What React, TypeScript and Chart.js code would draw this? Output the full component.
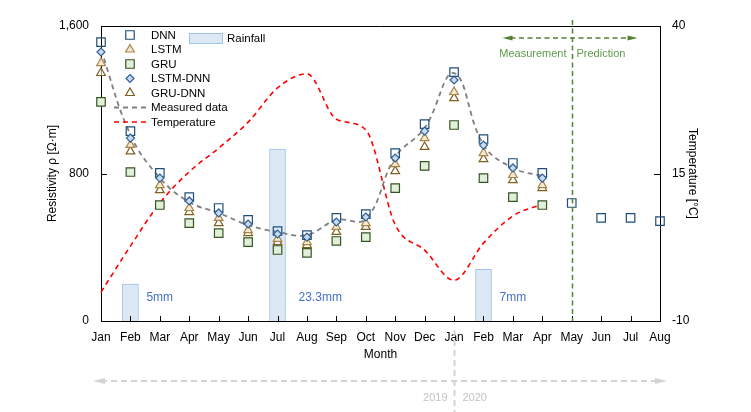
import React, { useEffect, useRef } from "react";
import { Chart, registerables } from "chart.js";

Chart.register(...registerables);

const FONT = "'Liberation Sans', Arial, sans-serif";

const months = ["Jan", "Feb", "Mar", "Apr", "May", "Jun", "Jul", "Aug", "Sep", "Oct", "Nov", "Dec", "Jan", "Feb", "Mar", "Apr", "May", "Jun", "Jul", "Aug"];

const dnn = [1513, 1030, 803, 672, 613, 548, 488, 466, 559, 580, 911, 1068, 1350, 987, 857, 803, 640, 559, 559, 542];
const lstm = [1399, 955, 737, 613, 559, 493, 445, 428, 510, 531, 851, 992, 1242, 911, 792, 737];
const gru = [1188, 808, 629, 531, 477, 428, 385, 369, 434, 455, 721, 841, 1063, 775, 672, 629];
const lstmDnn = [1459, 992, 775, 651, 586, 526, 472, 455, 537, 564, 884, 1030, 1307, 954, 830, 775];
const gruDnn = [1345, 920, 710, 591, 531, 477, 428, 412, 483, 510, 813, 944, 1209, 878, 764, 721];
const measured = [1470, 1010, 776, 645, 586, 521, 483, 466, 548, 553, 889, 1047, 1345, 955, 830, 786];
const temperature = [-5.1, 2.7, 10, 15.3, 19.3, 23.7, 29.5, 31.9, 24.2, 22.4, 6.3, 2.0, -3.1, 3.2, 7.8, 9.8];

const rainfallIndex = [1, 6, 13];
const rainfallMm = [5, 23.3, 7];
const rainfallLabels = ["5mm", "23.3mm", "7mm"];

const leftTicks = [0, 800, 1600];
const rightTicks = [-10, 15, 40];

const rainfallData = months.map((_, i) => {
  const k = rainfallIndex.indexOf(i);
  return k >= 0 ? rainfallMm[k] : null;
});

const C = {
  dnn: "#1f4e79",
  lstm: "#a8864a",
  lstmFill: "#f3e8d2",
  gru: "#375623",
  gruFill: "#e2efda",
  lstmDnn: "#2f5f96",
  lstmDnnFill: "#c9dbef",
  gruDnn: "#7f6020",
  measured: "#7f7f7f",
  temp: "#ff0000",
  barFill: "#dde8f5",
  barBorder: "#9dc3e6",
  green: "#548235",
  greenText: "#5f9a4a",
  gray: "#d3d3d3",
  grayText: "#c3c3c3",
  rainText: "#4472c4",
};

function drawSym(ctx: CanvasRenderingContext2D, kind: string, x: number, y: number, r: number, stroke: string, fill: string) {
  ctx.save();
  ctx.lineWidth = 1.2;
  ctx.strokeStyle = stroke;
  ctx.fillStyle = fill;
  ctx.setLineDash([]);
  ctx.beginPath();
  if (kind === "rect") {
    const s = Math.SQRT1_2 * r;
    ctx.rect(x - s, y - s, 2 * s, 2 * s);
  } else if (kind === "rectRot") {
    ctx.moveTo(x, y - r);
    ctx.lineTo(x + r, y);
    ctx.lineTo(x, y + r);
    ctx.lineTo(x - r, y);
    ctx.closePath();
  } else if (kind === "triangle") {
    const a = (2 * Math.PI) / 3;
    ctx.moveTo(x, y - r);
    ctx.lineTo(x + Math.sin(a) * r, y - Math.cos(a) * r);
    ctx.lineTo(x + Math.sin(2 * a) * r, y - Math.cos(2 * a) * r);
    ctx.closePath();
  }
  if (fill !== "none") ctx.fill();
  ctx.stroke();
  ctx.restore();
}

function arrowHead(ctx: CanvasRenderingContext2D, tipX: number, y: number, dir: number, len: number, half: number) {
  ctx.beginPath();
  ctx.moveTo(tipX, y);
  ctx.lineTo(tipX - dir * len, y - half);
  ctx.lineTo(tipX - dir * len, y + half);
  ctx.closePath();
  ctx.fill();
}

const legendItems = [
  { label: "DNN", kind: "rect", r: 6, stroke: C.dnn, fill: "none" },
  { label: "LSTM", kind: "triangle", r: 5, stroke: C.lstm, fill: C.lstmFill },
  { label: "GRU", kind: "rect", r: 6, stroke: C.gru, fill: C.gruFill },
  { label: "LSTM-DNN", kind: "rectRot", r: 4, stroke: C.lstmDnn, fill: C.lstmDnnFill },
  { label: "GRU-DNN", kind: "triangle", r: 5, stroke: C.gruDnn, fill: "#ffffff" },
  { label: "Measured data", kind: "line", stroke: C.measured, dash: [5, 4], w: 1.8 },
  { label: "Temperature", kind: "line", stroke: C.temp, dash: [5, 4], w: 1.6 },
];

const decorations = {
  id: "decorations",
  afterDraw(chart: any) {
    const { ctx, chartArea: ca, scales } = chart;
    const xs = scales.x;
    const ys = scales.y;
    const y1 = scales.y1;
    ctx.save();
    // top border + inner ticks
    ctx.strokeStyle = "#000";
    ctx.lineWidth = 1;
    ctx.setLineDash([]);
    ctx.beginPath();
    ctx.moveTo(ca.left, Math.round(ca.top) + 0.5);
    ctx.lineTo(ca.right, Math.round(ca.top) + 0.5);
    for (let i = 0; i < months.length; i++) {
      const px = Math.round(xs.getPixelForValue(i)) + 0.5;
      ctx.moveTo(px, ca.bottom);
      ctx.lineTo(px, ca.bottom - 5);
    }
    for (const v of leftTicks) {
      const py = Math.round(ys.getPixelForValue(v)) + 0.5;
      ctx.moveTo(ca.left, py);
      ctx.lineTo(ca.left + 6, py);
    }
    for (const v of rightTicks) {
      const py = Math.round(y1.getPixelForValue(v)) + 0.5;
      ctx.moveTo(ca.right, py);
      ctx.lineTo(ca.right - 6, py);
    }
    ctx.stroke();

    // rainfall labels
    ctx.fillStyle = C.rainText;
    ctx.font = `12px ${FONT}`;
    ctx.textAlign = "left";
    ctx.textBaseline = "middle";
    const dxs = [16, 21, 16];
    rainfallIndex.forEach((idx, k) => {
      ctx.fillText(rainfallLabels[k], xs.getPixelForValue(idx) + dxs[k], ca.bottom - 23);
    });

    // legend
    ctx.font = `11.5px ${FONT}`;
    ctx.fillStyle = "#000";
    legendItems.forEach((it: any, i: number) => {
      const yy = 35 + i * 14.5;
      if (it.kind === "line") {
        ctx.save();
        ctx.strokeStyle = it.stroke;
        ctx.lineWidth = it.w;
        ctx.setLineDash(it.dash);
        ctx.beginPath();
        ctx.moveTo(114, yy);
        ctx.lineTo(146, yy);
        ctx.stroke();
        ctx.restore();
      } else {
        drawSym(ctx, it.kind, 130, yy, it.r, it.stroke, it.fill);
      }
      ctx.fillStyle = "#000";
      ctx.textAlign = "left";
      ctx.textBaseline = "middle";
      ctx.fillText(it.label, 151, yy + 0.5);
    });
    ctx.fillStyle = C.barFill;
    ctx.strokeStyle = C.barBorder;
    ctx.lineWidth = 1;
    ctx.fillRect(189.5, 33.5, 33, 10);
    ctx.strokeRect(189.5, 33.5, 33, 10);
    ctx.fillStyle = "#000";
    ctx.fillText("Rainfall", 227, 38.5);

    // measurement / prediction
    const vx = Math.round(xs.getPixelForValue(16)) + 0.5;
    ctx.strokeStyle = C.green;
    ctx.fillStyle = C.green;
    ctx.lineWidth = 1.5;
    ctx.setLineDash([5, 3.5]);
    ctx.beginPath();
    ctx.moveTo(vx, 20);
    ctx.lineTo(vx, ca.bottom);
    ctx.moveTo(vx - 62, 38);
    ctx.lineTo(vx + 57, 38);
    ctx.stroke();
    ctx.setLineDash([]);
    arrowHead(ctx, vx - 70, 38, -1, 10, 2.5);
    arrowHead(ctx, vx + 65, 38, 1, 10, 2.5);
    ctx.fillStyle = C.greenText;
    ctx.font = `11px ${FONT}`;
    ctx.textAlign = "right";
    ctx.fillText("Measurement", vx - 6, 54);
    ctx.textAlign = "left";
    ctx.fillText("Prediction", vx + 4, 54);

    // year divider
    const gx = Math.round(xs.getPixelForValue(12)) + 0.5;
    ctx.strokeStyle = C.gray;
    ctx.fillStyle = C.gray;
    ctx.lineWidth = 2;
    ctx.setLineDash([6, 4]);
    ctx.beginPath();
    ctx.moveTo(gx, 330);
    ctx.lineTo(gx, 412);
    ctx.moveTo(ca.left - 0, 381);
    ctx.lineTo(ca.right - 2, 381);
    ctx.stroke();
    ctx.setLineDash([]);
    arrowHead(ctx, ca.left - 8, 381, -1, 12, 3);
    arrowHead(ctx, ca.right + 7, 381, 1, 12, 3);
    ctx.fillStyle = C.grayText;
    ctx.font = `11px ${FONT}`;
    ctx.textAlign = "right";
    ctx.fillText("2019", gx - 7, 398);
    ctx.textAlign = "left";
    ctx.fillText("2020", gx + 8, 398);

    ctx.restore();
  },
};

export default function App() {
  const ref = useRef<HTMLCanvasElement | null>(null);
  useEffect(() => {
    if (!ref.current) return;
    Chart.defaults.font.family = FONT;
    const tickFont = { family: FONT, size: 12 };
    const chart = new Chart(ref.current, {
      type: "line",
      data: {
        labels: months,
        datasets: [
          {
            type: "line",
            label: "LSTM-DNN",
            data: lstmDnn,
            showLine: false,
            pointStyle: "rectRot",
            pointRadius: 4,
            pointBorderWidth: 1.2,
            borderColor: C.lstmDnn,
            backgroundColor: C.lstmDnnFill,
            yAxisID: "y",
            order: 1,
          },
          {
            type: "line",
            label: "DNN",
            data: dnn,
            showLine: false,
            pointStyle: "rect",
            pointRadius: 6,
            pointBorderWidth: 1.2,
            borderColor: C.dnn,
            backgroundColor: "rgba(255,255,255,0)",
            yAxisID: "y",
            order: 2,
          },
          {
            type: "line",
            label: "LSTM",
            data: lstm,
            showLine: false,
            pointStyle: "triangle",
            pointRadius: 5,
            pointBorderWidth: 1.2,
            borderColor: C.lstm,
            backgroundColor: C.lstmFill,
            yAxisID: "y",
            order: 3,
          },
          {
            type: "line",
            label: "GRU-DNN",
            data: gruDnn,
            showLine: false,
            pointStyle: "triangle",
            pointRadius: 5,
            pointBorderWidth: 1.2,
            borderColor: C.gruDnn,
            backgroundColor: "rgba(255,255,255,0.6)",
            yAxisID: "y",
            order: 4,
          },
          {
            type: "line",
            label: "GRU",
            data: gru,
            showLine: false,
            pointStyle: "rect",
            pointRadius: 6,
            pointBorderWidth: 1.2,
            borderColor: C.gru,
            backgroundColor: C.gruFill,
            yAxisID: "y",
            order: 5,
          },
          {
            type: "line",
            label: "Measured data",
            data: measured,
            borderColor: C.measured,
            borderWidth: 1.8,
            borderDash: [5, 4],
            pointRadius: 0,
            tension: 0.4,
            fill: false,
            yAxisID: "y",
            order: 6,
          },
          {
            type: "line",
            label: "Temperature",
            data: temperature,
            borderColor: C.temp,
            borderWidth: 1.6,
            borderDash: [5, 4],
            pointRadius: 0,
            cubicInterpolationMode: "monotone",
            fill: false,
            yAxisID: "y1",
            order: 7,
          },
          {
            type: "bar",
            label: "Rainfall",
            data: rainfallData,
            backgroundColor: C.barFill,
            borderColor: C.barBorder,
            borderWidth: 1,
            barThickness: 16,
            yAxisID: "y2",
            order: 10,
          },
        ] as any,
      },
      options: {
        responsive: false,
        animation: false,
        layout: { padding: { top: 26, left: 0, right: 0, bottom: 0 } },
        plugins: { legend: { display: false }, tooltip: { enabled: false } },
        scales: {
          x: {
            type: "category",
            offset: false,
            grid: { display: false, drawTicks: false },
            border: { display: true, color: "#000", width: 1 },
            ticks: { autoSkip: false, maxRotation: 0, minRotation: 0, padding: 9, color: "#000", font: tickFont },
            title: { display: true, text: "Month", color: "#000", font: tickFont, padding: { top: 0, bottom: 50 } },
            afterFit: (s: any) => {
              s.height = 91;
            },
          },
          y: {
            position: "left",
            min: 0,
            max: 1600,
            grid: { display: false, drawTicks: false },
            border: { display: true, color: "#000", width: 1 },
            ticks: { stepSize: 800, padding: 12, color: "#000", font: tickFont },
            title: { display: true, text: "Resistivity ρ [Ω·m]", color: "#000", font: tickFont, padding: { top: 45, bottom: 0 } },
            afterFit: (s: any) => {
              s.width = 101;
            },
          },
          y1: {
            position: "right",
            min: -10,
            max: 40,
            grid: { display: false, drawTicks: false },
            border: { display: true, color: "#000", width: 1 },
            ticks: { stepSize: 25, padding: 12, color: "#000", font: tickFont },
            title: { display: true, text: "Temperature [°C]", color: "#000", font: tickFont, padding: { top: 51, bottom: 0 } },
            afterFit: (s: any) => {
              s.width = 91;
            },
          },
          y2: {
            display: false,
            min: 0,
            max: 40,
          },
        },
      } as any,
      plugins: [decorations],
    });
    return () => chart.destroy();
  }, []);

  return (
    <div style={{ position: "fixed", left: 0, top: 0, width: 751, height: 412, background: "#fff" }}>
      <canvas ref={ref} width={751} height={412} style={{ display: "block" }} />
    </div>
  );
}
